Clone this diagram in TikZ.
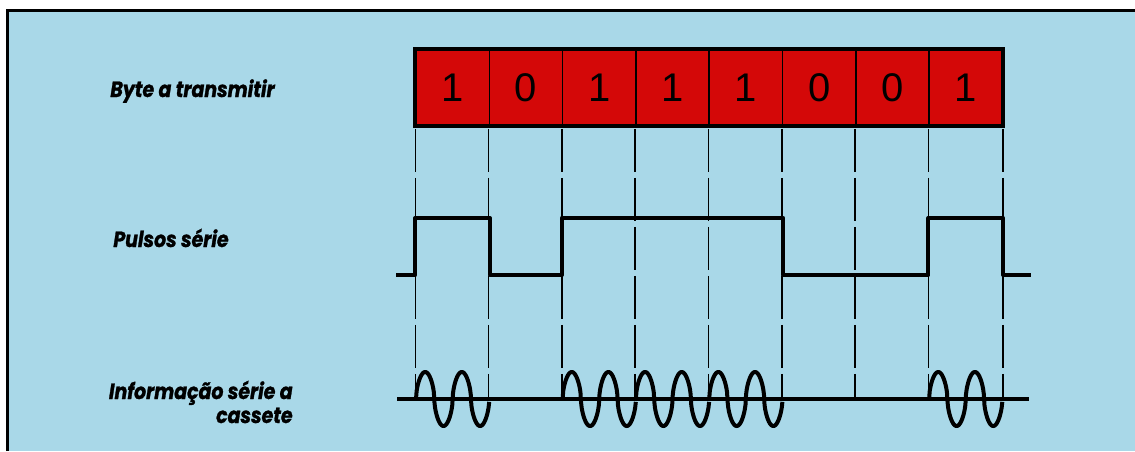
\documentclass[tikz,border=0pt]{standalone}
\usepackage{fontspec}
\newfontfamily\labelfont[FakeStretch=0.86, BoldItalicFeatures={FakeBold=1.3}]{Poppins}
\newfontfamily\digitfont{Liberation Sans}
\usepackage{xcolor}
\definecolor{color1}{HTML}{A9D8E8}
\definecolor{color2}{HTML}{D40808}
\usepackage{tikz}
\usetikzlibrary{positioning, calc}
\tikzset{%
    bitcell/.style={%
        draw=black, line width=0.75pt, fill=color2,
        minimum width=36.65pt, minimum height=37.5pt, inner sep=0,
        font=\digitfont\fontsize{20}{20}\selectfont,
    },
    rowlabel/.style={%
        font=\labelfont\bfseries\itshape\fontsize{11}{12}\selectfont, inner sep=0,
    },
    guide/.style={%
        line width=0.75pt, dash pattern=on 21.5pt off 3pt, dash phase=23pt,
    },
    signal/.style={%
        line width=2pt, line join=round,
    },
}

\begin{document}
\begin{tikzpicture}[x=0.5pt, y=-0.5pt]
        \def\cellw{73.3}
        \def\amp{27}

        \useasboundingbox (0,0) rectangle (1135,451);
        \fill[white] (0,0) rectangle (1135,451);
        \fill[color1] (7,10) rectangle (1135,451);
        \draw[line width=1.5pt] (7,451) -- (7,10) -- (1135,10);

        \coordinate (hi) at (0,218);
        \coordinate (lo) at (0,275);
        \coordinate (base) at (0,399);

        % the byte
        \foreach \b [count=\i] in {1,0,1,1,1,0,0,1}
            \node[bitcell] (b\i) at ({416+(\i-0.5)*\cellw}, 87.5) {\b};
        \draw[line width=2pt] (b1.north west) rectangle (b8.south east);

        % guides
        \foreach \i in {1,...,8}
            \draw[guide] (b\i.south west) -- (b\i.south west |- base);
        \draw[guide] (b8.south east) -- (b8.south east |- base);

        % serial pulses
        \draw[signal] ($(b1.south west |- lo)+(-19,0)$) -- (b1.south west |- lo) -- (b1.south west |- hi)
            -- (b1.south east |- hi) -- (b1.south east |- lo) -- (b3.south west |- lo) -- (b3.south west |- hi)
            -- (b5.south east |- hi) -- (b5.south east |- lo) -- (b8.south west |- lo) -- (b8.south west |- hi)
            -- (b8.south east |- hi) -- (b8.south east |- lo) -- ($(b8.south east |- lo)+(28,0)$);

        % cassette signal
        \draw[signal] ($(b1.south west |- base)+(-18,0)$) -- ($(b8.south east |- base)+(26,0)$);
        \foreach \i in {1,3,4,5,8}
            \draw[signal] plot[domain=0:1, samples=120]
                ({416+(\i-1+\x)*\cellw}, {399-\amp*sign(sin(720*\x))*pow(max(abs(sin(720*\x)),0.001),0.55)});

        \node[rowlabel, anchor=base west] (byte) at (110,97) {Byte a transmitir};
        \node[rowlabel, anchor=base west] (pulses) at (113,247) {Pulsos série};
        \node[rowlabel, anchor=base east] (info) at (293,399) {Informação série a};
        \node[rowlabel, anchor=base east] (tape) at (293,423) {cassete};
    \end{tikzpicture}
\end{document}
